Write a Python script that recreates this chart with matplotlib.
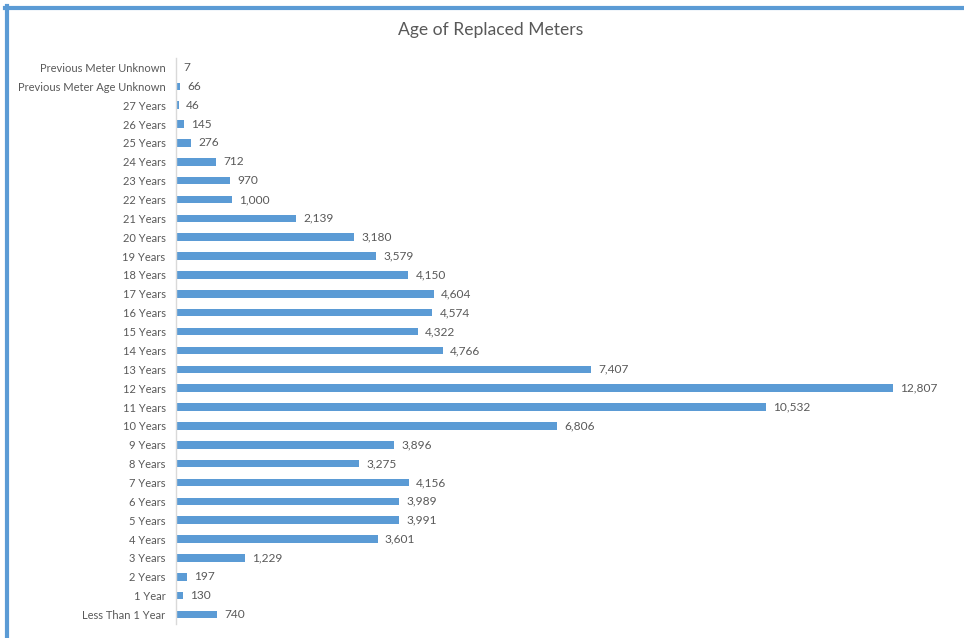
import matplotlib.pyplot as plt
from matplotlib.lines import Line2D

categories = ['Less Than 1 Year', '1 Year', '2 Years', '3 Years', '4 Years', '5 Years',
              '6 Years', '7 Years', '8 Years', '9 Years', '10 Years', '11 Years',
              '12 Years', '13 Years', '14 Years', '15 Years', '16 Years', '17 Years',
              '18 Years', '19 Years', '20 Years', '21 Years', '22 Years', '23 Years',
              '24 Years', '25 Years', '26 Years', '27 Years',
              'Previous Meter Age Unknown', 'Previous Meter Unknown']
counts = [740, 130, 197, 1229, 3601, 3991, 3989, 4156, 3275, 3896, 6806, 10532,
          12807, 7407, 4766, 4322, 4574, 4604, 4150, 3579, 3180, 2139, 1000, 970,
          712, 276, 145, 46, 66, 7]

plt.rcParams['font.family'] = ['Lato', 'DejaVu Sans']
bar_color = '#5B9BD5'
text_color = '#595959'

fig = plt.figure(figsize=(9.64, 6.38), dpi=100)
ax = fig.add_axes([176/964, 14/638, 784/964, 566/638])

y = range(len(categories))
ax.barh(y, counts, height=0.4, color=bar_color)
for i, v in enumerate(counts):
    ax.text(v + 130, i, f'{v:,}', va='center', ha='left', fontsize=8.6, color=text_color)

ax.set_yticks(list(y))
ax.set_yticklabels(categories, fontsize=8, color=text_color)
ax.set_ylim(-0.5, len(categories) - 0.5)
ax.set_xlim(0, 14000)
ax.set_xticks([])
ax.tick_params(axis='y', length=0, pad=7.5)
for s in ['top', 'right', 'bottom']:
    ax.spines[s].set_visible(False)
ax.spines['left'].set_color('#D9D9D9')
ax.spines['left'].set_linewidth(1)

fig.text(491/964, 1 - 30/638, 'Age of Replaced Meters', ha='center', va='center',
         fontsize=12.6, color=text_color)

# blue frame (top and left edges)
fig.add_artist(Line2D([5/964, 1], [1 - 8/638, 1 - 8/638], color=bar_color, lw=3,
                      transform=fig.transFigure))
fig.add_artist(Line2D([7/964, 7/964], [0, 1 - 6/638], color=bar_color, lw=3,
                      transform=fig.transFigure))

plt.savefig('out.png', dpi=100)
